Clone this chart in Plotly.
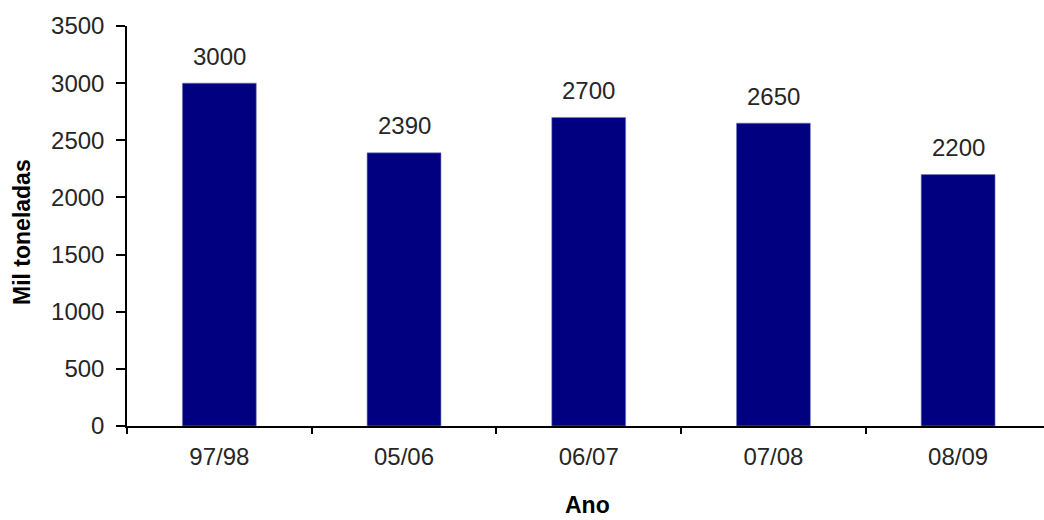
import plotly.graph_objects as go

# Produção por safra (mil toneladas)
safras = ["97/98", "05/06", "06/07", "07/08", "08/09"]
producao = [3000, 2390, 2700, 2650, 2200]
y_ticks = [0, 500, 1000, 1500, 2000, 2500, 3000, 3500]

FONT = "Liberation Sans, Arial, sans-serif"
BAR_COLOR = "#000080"

fig = go.Figure()
fig.add_trace(go.Bar(
    x=safras,
    y=producao,
    width=0.4,
    marker=dict(color=BAR_COLOR, line=dict(color="#7a7ac0", width=0.6)),
    hoverinfo="x+y",
))

# Rótulos de valor acima das barras
for s, v in zip(safras, producao):
    fig.add_annotation(
        x=s, y=v, text=str(v), showarrow=False,
        yanchor="middle", yshift=27,
        font=dict(family=FONT, size=24, color="#262626"),
    )

# Títulos dos eixos
fig.add_annotation(
    xref="paper", yref="paper", x=-0.1145, y=0.485,
    text="<b>Mil toneladas</b>", textangle=-90, showarrow=False,
    xanchor="center", yanchor="middle",
    font=dict(family=FONT, size=23, color="#000000"),
)
fig.add_annotation(
    xref="paper", yref="paper", x=0.5025, y=-0.1975,
    text="<b>Ano</b>", showarrow=False,
    xanchor="center", yanchor="middle",
    font=dict(family=FONT, size=23, color="#000000"),
)

fig.update_layout(
    width=1044, height=520,
    margin=dict(l=127, r=0, t=26, b=94),
    paper_bgcolor="white", plot_bgcolor="white",
    showlegend=False,
    bargap=0.6,
)
fig.update_xaxes(
    type="category",
    range=[-0.5, 4.465],
    showline=True, linecolor="#000000", linewidth=1.5,
    ticks="outside", ticklen=6, tickwidth=1.5, tickcolor="#000000",
    tickson="boundaries",
    showgrid=False, zeroline=False,
    tickfont=dict(family=FONT, size=24, color="#262626"),
    ticklabelstandoff=8,
)
fig.update_yaxes(
    range=[0, 3500],
    tickvals=y_ticks,
    showline=True, linecolor="#000000", linewidth=1.5,
    ticks="outside", ticklen=9, tickwidth=1.5, tickcolor="#000000",
    showgrid=False, zeroline=False,
    tickfont=dict(family=FONT, size=24, color="#262626"),
    ticklabelstandoff=7,
)

fig.write_html("out.html")
